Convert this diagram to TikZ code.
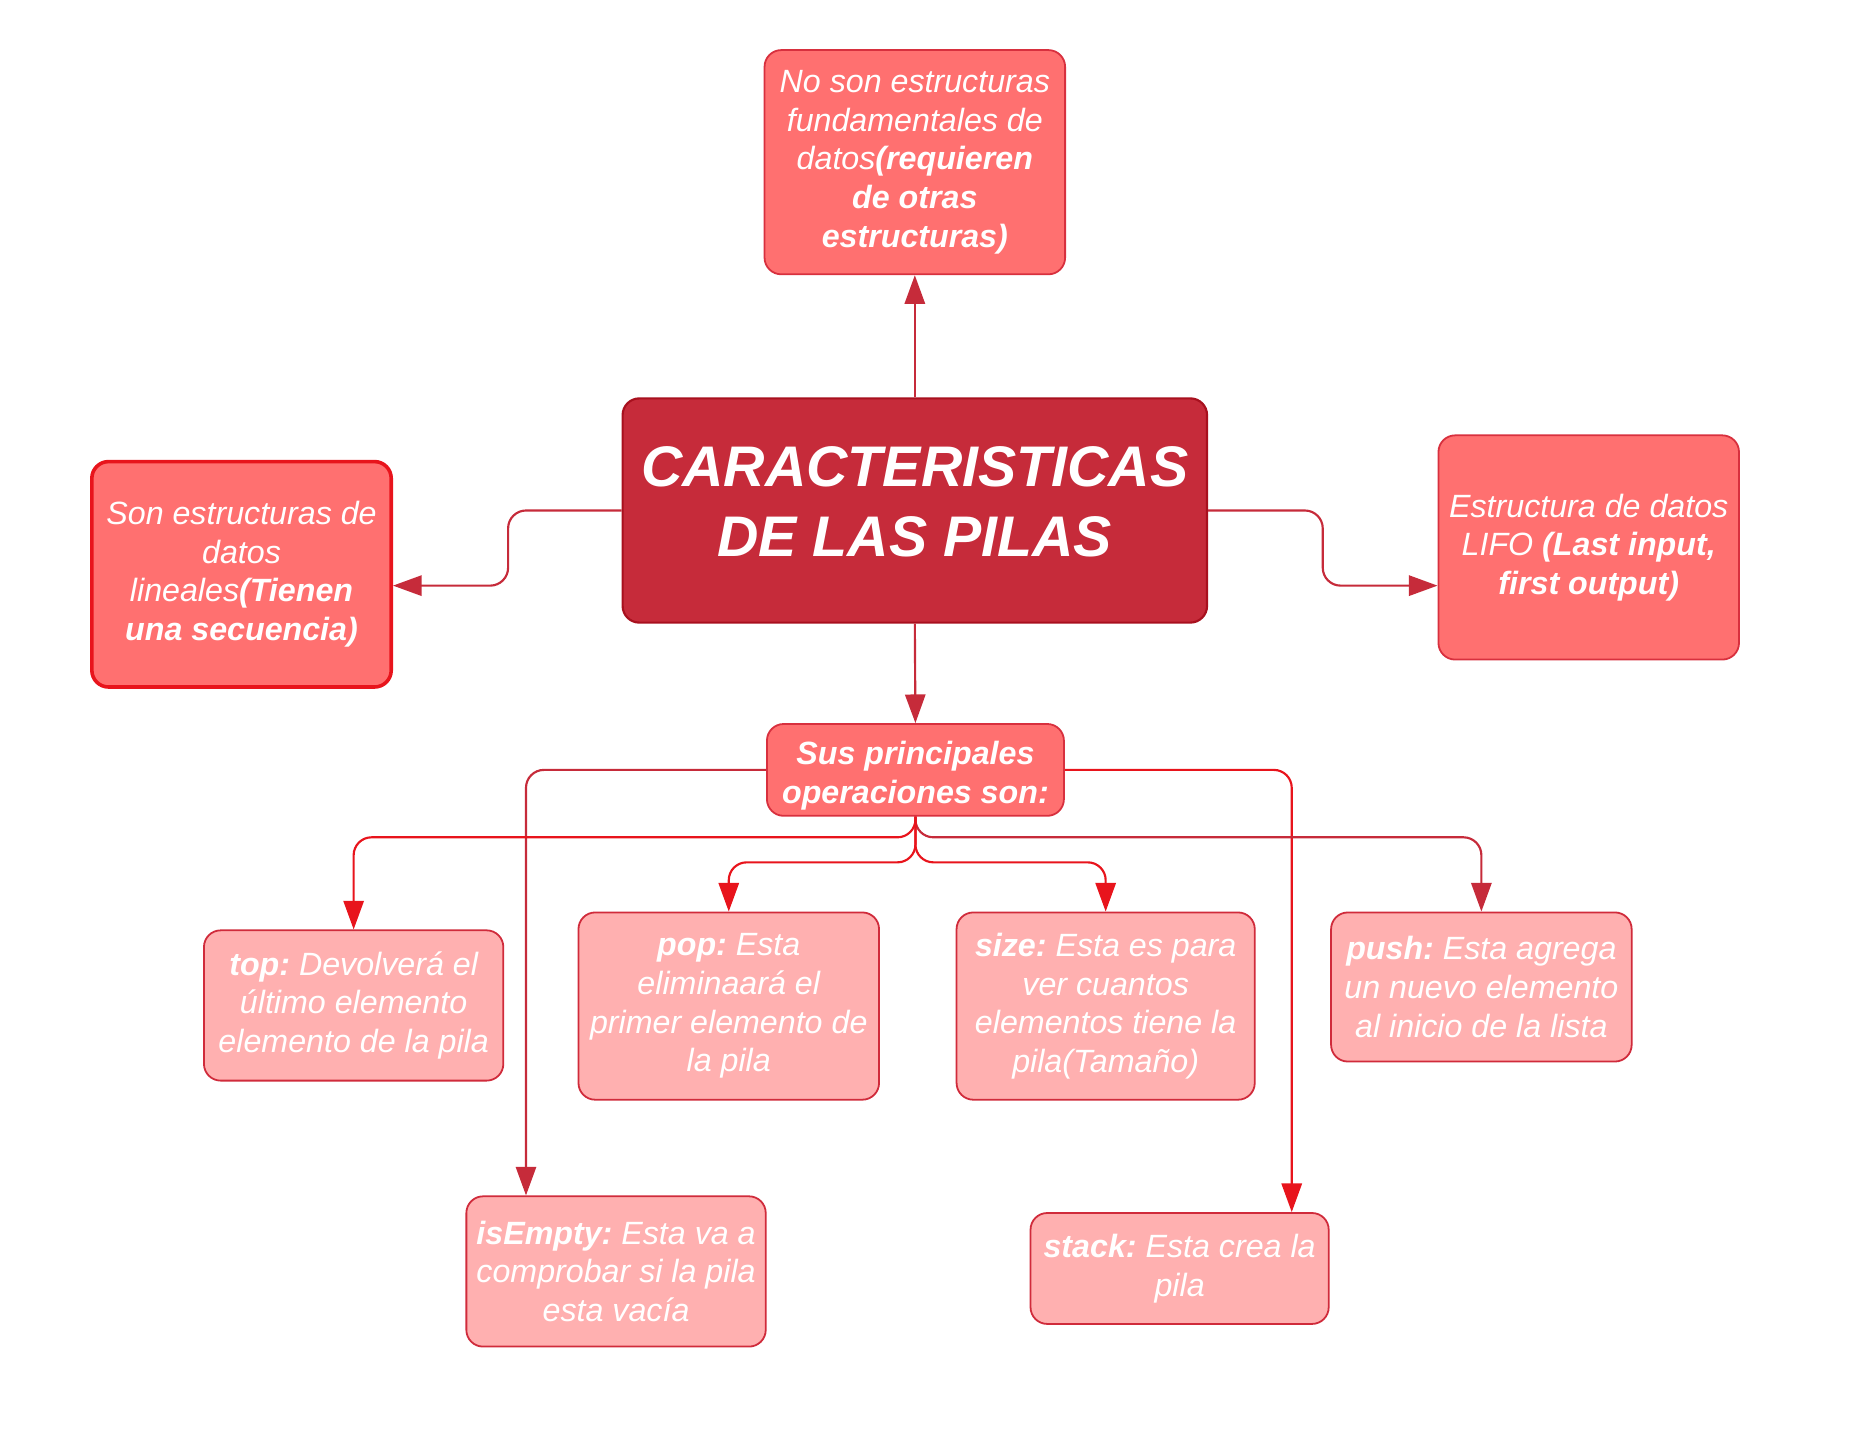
\documentclass[tikz,border=0pt]{standalone}
\usepackage{fontspec}
\setmainfont{Liberation Sans}
\usetikzlibrary{arrows.meta}
\frenchspacing
\definecolor{mainfill}{HTML}{C62B3A}
\definecolor{mainborder}{HTML}{A8101E}
\definecolor{upfill}{HTML}{FF7070}
\definecolor{upborder}{HTML}{D8303E}
\definecolor{leftborder}{HTML}{E8141C}
\definecolor{lowfill}{HTML}{FFB0B0}
\definecolor{lowborder}{HTML}{D02B3B}
\definecolor{arrdark}{HTML}{C62B3A}
\definecolor{arrbright}{HTML}{E8141C}
\tikzset{
  base/.style={rounded corners=7pt, text=white, align=center, inner sep=0pt,
    font=\fontsize{13.5}{16.2}\selectfont\itshape\frenchspacing, line width=0.75pt},
  upper/.style={base, fill=upfill, draw=upborder},
  lower/.style={base, fill=lowfill, draw=lowborder},
  plaintext/.style={text=white, align=center, inner sep=0pt,
    font=\fontsize{13.5}{16.2}\selectfont\bfseries\itshape},
  mainbox/.style={rounded corners=7pt, fill=mainfill, draw=mainborder, line width=0.9pt, inner sep=0pt},
  titletext/.style={text=white, align=center, inner sep=0pt,
    font=\fontsize{24}{29.5}\selectfont\bfseries\itshape},
  darrow/.style={draw=arrdark, line width=0.9pt, -{Triangle[length=12pt,width=8.5pt]}, rounded corners=7.5pt},
  barrow/.style={darrow, draw=arrbright},
}
\begin{document}
\begin{tikzpicture}[x=0.5pt,y=-0.5pt]
\useasboundingbox (0,0) rectangle (1567,1198);

\node[upper, minimum width=126pt, minimum height=94pt] (fund) at (767,136)
  {No son estructuras\\fundamentales de\\datos{\bfseries(requieren}\\{\bfseries de otras}\\{\bfseries estructuras)}};
\node[mainbox, minimum width=245pt, minimum height=94pt] (main) at (767,428) {};
\node[titletext] (maintitle) at (767,420.5) {CARACTERISTICAS\\DE LAS PILAS};
\node[upper, draw=leftborder, line width=1.5pt, minimum width=125.5pt, minimum height=94.5pt] (lin) at (202.5,481.5)
  {Son estructuras de\\datos\\lineales{\bfseries(Tienen}\\{\bfseries una secuencia)}};
\node[upper, minimum width=126pt, minimum height=94pt] (lifo) at (1332,459)
  {Estructura de datos\\LIFO {\bfseries(Last input,}\\{\bfseries first output)}};
\node[upper, minimum width=124.5pt, minimum height=38.5pt] (sus) at (767.5,645.5) {};
\node[plaintext] (sustext) at (767.5,650.5) {Sus principales\\operaciones son:};
\node[lower, minimum width=125.5pt, minimum height=63pt] (optop) at (296.5,843)
  {{\bfseries top:} Devolverá el\\último elemento\\elemento de la pila};
\node[lower, minimum width=126pt, minimum height=78.5pt] (pop) at (611,843.5)
  {{\bfseries pop:} Esta\\eliminaará el\\primer elemento de\\la pila};
\node[lower, minimum width=125pt, minimum height=78.5pt] (size) at (927,843.5)
  {{\bfseries size:} Esta es para\\ver cuantos\\elementos tiene la\\pila(Tamaño)};
\node[lower, minimum width=126pt, minimum height=62.5pt] (push) at (1242,827.5)
  {{\bfseries push:} Esta agrega\\un nuevo elemento\\al inicio de la lista};
\node[lower, minimum width=125.5pt, minimum height=63pt] (isempty) at (516.5,1066)
  {{\bfseries isEmpty:} Esta va a\\comprobar si la pila\\esta vacía};
\node[lower, minimum width=125pt, minimum height=46.5pt] (stack) at (989,1063.5)
  {{\bfseries stack:} Esta crea la\\pila};

\coordinate (lj) at (426,491);
\coordinate (rj) at (1109,491);
\coordinate (iex) at (441,645.5);
\coordinate (stx) at (1083,645.5);
\coordinate (b1) at (767.5,702);
\coordinate (b2) at (767.5,723);

\draw[darrow] (main.north) -- (fund.south);
\draw[darrow] (main.west) -| (lj) -- (lin.east |- lj);
\draw[darrow] (main.east) -| (rj) -- (lifo.west |- rj);
\draw[darrow] (main.south) -- (sus.north);
\draw[darrow] (sus.west) -- (iex) -- (iex |- isempty.north);
\draw[barrow] (sus.east) -- (stx) -- (stx |- stack.north);
\draw[barrow] (sus.south) -- (b1) -| (optop.north);
\draw[darrow] (sus.south) -- (b1) -| (push.north);
\draw[barrow] (sus.south) -- (b2) -| (pop.north);
\draw[barrow] (sus.south) -- (b2) -| (size.north);
\end{tikzpicture}
\end{document}
